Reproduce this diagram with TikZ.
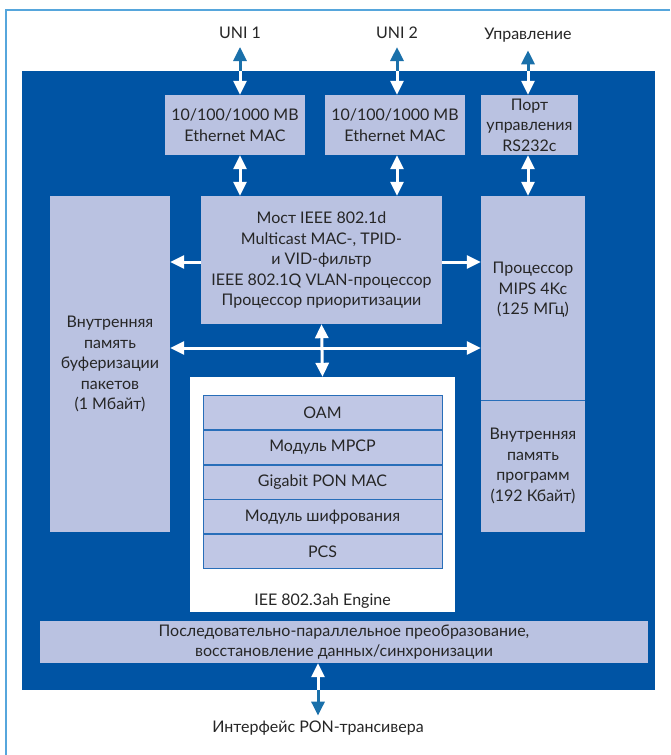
\documentclass[tikz,border=0pt]{standalone}
\usepackage{fontspec}
\setmainfont{Lato}
\usetikzlibrary{arrows.meta}
\definecolor{panelblue}{RGB}{0,84,164}
\definecolor{boxfill}{RGB}{186,194,225}
\definecolor{rowfill}{RGB}{192,199,229}
\definecolor{rowline}{RGB}{40,110,185}
\definecolor{extarrow}{RGB}{26,112,170}
\definecolor{framecol}{RGB}{86,166,220}
\begin{document}
\begin{tikzpicture}[x=1pt,y=-1pt,
  txt/.style={font=\fontsize{16}{20.5}\selectfont, text=black!85, align=center, inner sep=0pt},
  blk/.style={txt, fill=boxfill, draw=none, minimum width=#1},
  rowbox/.style={txt, fill=rowfill, draw=rowline, line width=0.8pt,
    minimum width=239pt, minimum height=34pt, anchor=north},
  whitearr/.style={draw=white, line width=3pt,
    -{Triangle[width=13pt,length=14pt]}, fill=white},
  wboth/.style={draw=white, line width=3pt,
    {Triangle[width=13pt,length=14pt]}-{Triangle[width=13pt,length=14pt]}},
  bluearr/.style={draw=extarrow, line width=3pt,
    -{Triangle[width=13pt,length=14pt]}}
]
\useasboundingbox (0,0) rectangle (670,755);
\fill[white] (0,0) rectangle (670,755);

% outer frame lines
\draw[framecol, line width=2pt] (6,755) -- (6,10) -- (670,10);

% main blue panel
\node[fill=panelblue, inner sep=0pt, minimum width=633pt, minimum height=619pt]
  (panel) at (338.5,380.5) {};

% external labels
\node[txt] (uni1) at (240,33) {UNI 1};
\node[txt] (uni2) at (397,33) {UNI 2};
\node[txt] (ctrl) at (528,35) {Управление};
\node[txt] (pon) at (318,728) {Интерфейс PON-трансивера};

% interface blocks
\node[blk=140pt, minimum height=60pt] (eth1) at (235,125) {10/100/1000 MB\\Ethernet MAC};
\node[blk=140pt, minimum height=60pt] (eth2) at (395,125) {10/100/1000 MB\\Ethernet MAC};
\node[blk=97pt, minimum height=60pt] (port) at (529.5,125) {Порт\\управления\\RS232c};

% bridge
\node[blk=241pt, minimum height=128pt] (bridge) at (321.5,260)
  {Мост IEEE 802.1d\\Multicast MAC-, TPID-\\и VID-фильтр\\IEEE 802.1Q VLAN-процессор\\Процессор приоритизации};

% buffer memory
\node[blk=120pt, minimum height=336pt] (mem) at (110,364)
  {Внутренняя\\память\\буферизации\\пакетов\\(1 Мбайт)};

% processor and program memory
\node[blk=104pt, minimum height=204pt] (cpu) at (533,298) {};
\node[txt] (cputxt) at (533,290) {Процессор\\MIPS 4Kc\\(125 МГц)};
\node[blk=104pt, minimum height=132pt] (prog) at (533,466)
  {Внутренняя\\память\\программ\\(192 Кбайт)};
\draw[rowline, line width=1pt] (cpu.south west) -- (cpu.south east);

% IEEE 802.3ah engine
\node[fill=white, inner sep=0pt, minimum width=265pt, minimum height=235pt]
  (engine) at (322.5,494.5) {};
\node[rowbox] (oam) at (322.5,395) {OAM};
\node[rowbox] (mpcp) at (oam.south) {Модуль MPCP};
\node[rowbox] (gmac) at (mpcp.south) {Gigabit PON MAC};
\node[rowbox] (crypt) at (gmac.south) {Модуль шифрования};
\node[rowbox] (pcs) at (crypt.south) {PCS};
\node[txt] (englabel) at (322.5,601) {IEE 802.3ah Engine};

% SerDes block
\node[blk=608pt, minimum height=42pt] (serdes) at (344,642)
  {Последовательно-параллельное преобразование,\\восстановление данных/синхронизации};

% external ports: blue outside the panel, white inside
\foreach \lab/\blk in {uni1/eth1, uni2/eth2, ctrl/port}{
  \draw[bluearr] (panel.north -| \lab) -- ([yshift=-8pt]\lab.south);
  \draw[whitearr] (panel.north -| \lab) -- (\blk.north -| \lab);
}
\draw[bluearr] (panel.south -| pon) -- ([yshift=5pt]pon.north);
\draw[whitearr] (panel.south -| pon) -- (serdes.south -| pon);

% interface blocks to bridge / processor
\draw[wboth] (eth1.south -| uni1) -- (bridge.north -| uni1);
\draw[wboth] (eth2.south -| uni2) -- (bridge.north -| uni2);
\draw[wboth] (port.south -| ctrl) -- (cpu.north -| ctrl);

% bridge side links
\draw[whitearr] ([yshift=-2pt]bridge.west) -- ([yshift=-2pt]bridge.west -| mem.east);
\draw[whitearr] ([yshift=-2pt]bridge.east) -- ([yshift=-2pt]bridge.east -| cpu.west);

% internal bus
\coordinate (busy) at (0,348);
\draw[wboth] (mem.east |- busy) -- (cpu.west |- busy);
\draw[wboth] (bridge.south) -- (engine.north);
\end{tikzpicture}
\end{document}
